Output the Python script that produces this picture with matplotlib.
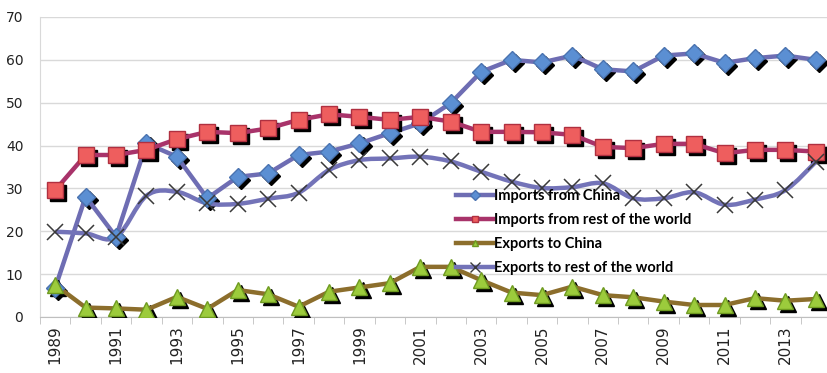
import numpy as np
import matplotlib
matplotlib.use("Agg")
import matplotlib.pyplot as plt
from matplotlib.transforms import offset_copy
from matplotlib.path import Path
from matplotlib.patches import PathPatch

years = list(range(1989, 2015))
imports_china = [6.8, 28.1, 18.7, 40.5, 37.4, 27.7, 32.7, 33.5, 37.8, 38.6, 40.5, 42.9, 45.2, 49.9,
                 57.2, 60.0, 59.4, 61.0, 57.8, 57.3, 61.0, 61.5, 59.3, 60.4, 61.0, 60.0]
imports_row = [29.6, 37.8, 37.8, 39.0, 41.5, 43.2, 42.9, 44.0, 46.0, 47.3, 46.7, 46.0, 46.7, 45.6,
               43.2, 43.2, 43.1, 42.5, 39.7, 39.4, 40.4, 40.4, 38.2, 39.0, 39.0, 38.6]
exports_china = [7.5, 2.2, 2.0, 1.7, 4.7, 1.9, 6.3, 5.3, 2.4, 5.9, 6.9, 7.9, 11.7, 11.7,
                 8.6, 5.7, 5.1, 7.1, 5.1, 4.6, 3.6, 2.8, 2.8, 4.4, 3.8, 4.2]
exports_row = [19.9, 19.5, 18.6, 28.3, 29.2, 26.5, 26.4, 27.6, 29.0, 34.3, 36.6, 37.0, 37.4, 36.3,
               33.9, 31.6, 30.1, 30.3, 31.2, 27.7, 27.7, 29.1, 26.2, 27.4, 29.6, 36.2]
labels = ["Imports from China", "Imports from rest of the world",
          "Exports to China", "Exports to rest of the world"]


def smooth_path(xs, ys):
    # excel "smoothed line": bezier through the points (catmull-rom controls)
    p = np.column_stack([xs, ys]).astype(float)
    n = len(p)
    verts = [p[0]]
    codes = [Path.MOVETO]
    for i in range(n - 1):
        p0 = p[max(i - 1, 0)]
        p3 = p[min(i + 2, n - 1)]
        c1 = p[i] + (p[i + 1] - p0) / 6
        c2 = p[i + 1] - (p3 - p[i]) / 6
        verts += [c1, c2, p[i + 1]]
        codes += [Path.CURVE4] * 3
    return Path(verts, codes)


fig = plt.figure(figsize=(8.28, 3.73), dpi=100)
ax = fig.add_axes([40 / 828, 56 / 373, 788 / 828, 300 / 373])
x = np.arange(len(years))

shadow = offset_copy(ax.transData, fig=fig, x=2.2, y=-2.2, units="points")

# line colour, marker, size, face, edge, drop shadow, smoothed
styles = [
    (imports_china, "#6E6DB3", "D", 9, "#5B8FD3", "#4A73B0", True, False),
    (imports_row, "#A8336A", "s", 11, "#EE5E5E", "#B03040", True, False),
    (exports_china, "#8C6E2C", "^", 11, "#9CCB3C", "#6E9A20", True, False),
    (exports_row, "#7373B8", "x", 12, "#3A3A3A", "#3A3A3A", False, True),
]
handles = []
for vals, lc, mk, ms, mfc, mec, shad, smooth in styles:
    if shad:
        ax.plot(x, vals, ls="none", marker=mk, ms=ms, mfc="black", mec="black",
                transform=shadow, zorder=3)
    if smooth:
        ax.add_patch(PathPatch(smooth_path(x, vals), fill=False, ec=lc, lw=3.2,
                               joinstyle="round", zorder=3))
    else:
        ax.plot(x, vals, color=lc, lw=3.2, zorder=3, solid_joinstyle="round")
    ax.plot(x, vals, ls="none", marker=mk, ms=ms, mfc=mfc, mec=mec,
            mew=1.0 if mk != "x" else 1.1, zorder=4)
    h, = ax.plot([], [], color=lc, lw=3.2, marker=mk, ms=5 if mk != "x" else 7,
                 mfc=mfc, mec=mec)
    handles.append(h)

ax.set_ylim(0, 70)
ax.set_xlim(-0.5, 25.4)
ax.set_yticks(range(0, 71, 10))
ax.yaxis.grid(True, color="#D9D9D9", lw=1)
ax.set_axisbelow(True)
ax.tick_params(axis="y", length=0, pad=12, labelsize=10, labelcolor="#222222")

ax.set_xticks(x[::2])
ax.set_xticklabels([str(y) for y in years[::2]], rotation=90, fontsize=11, color="#222222")
ax.set_xticks(np.arange(-0.5, 25.5, 1), minor=True)
ax.tick_params(axis="x", which="major", length=0, pad=6)
ax.tick_params(axis="x", which="minor", length=5, color="#BFBFBF")

for s in ["top", "right"]:
    ax.spines[s].set_visible(False)
ax.spines["left"].set_color("#D9D9D9")
ax.spines["bottom"].set_color("#BFBFBF")

ax.legend(handles, labels, loc="upper left", bbox_to_anchor=(0.521, 0.447), frameon=False,
          prop={"family": "Lato", "weight": "bold", "size": 10.5},
          handlelength=2.5, handletextpad=0.1, labelspacing=0.7, borderaxespad=0)

fig.savefig("out.png", dpi=100)
